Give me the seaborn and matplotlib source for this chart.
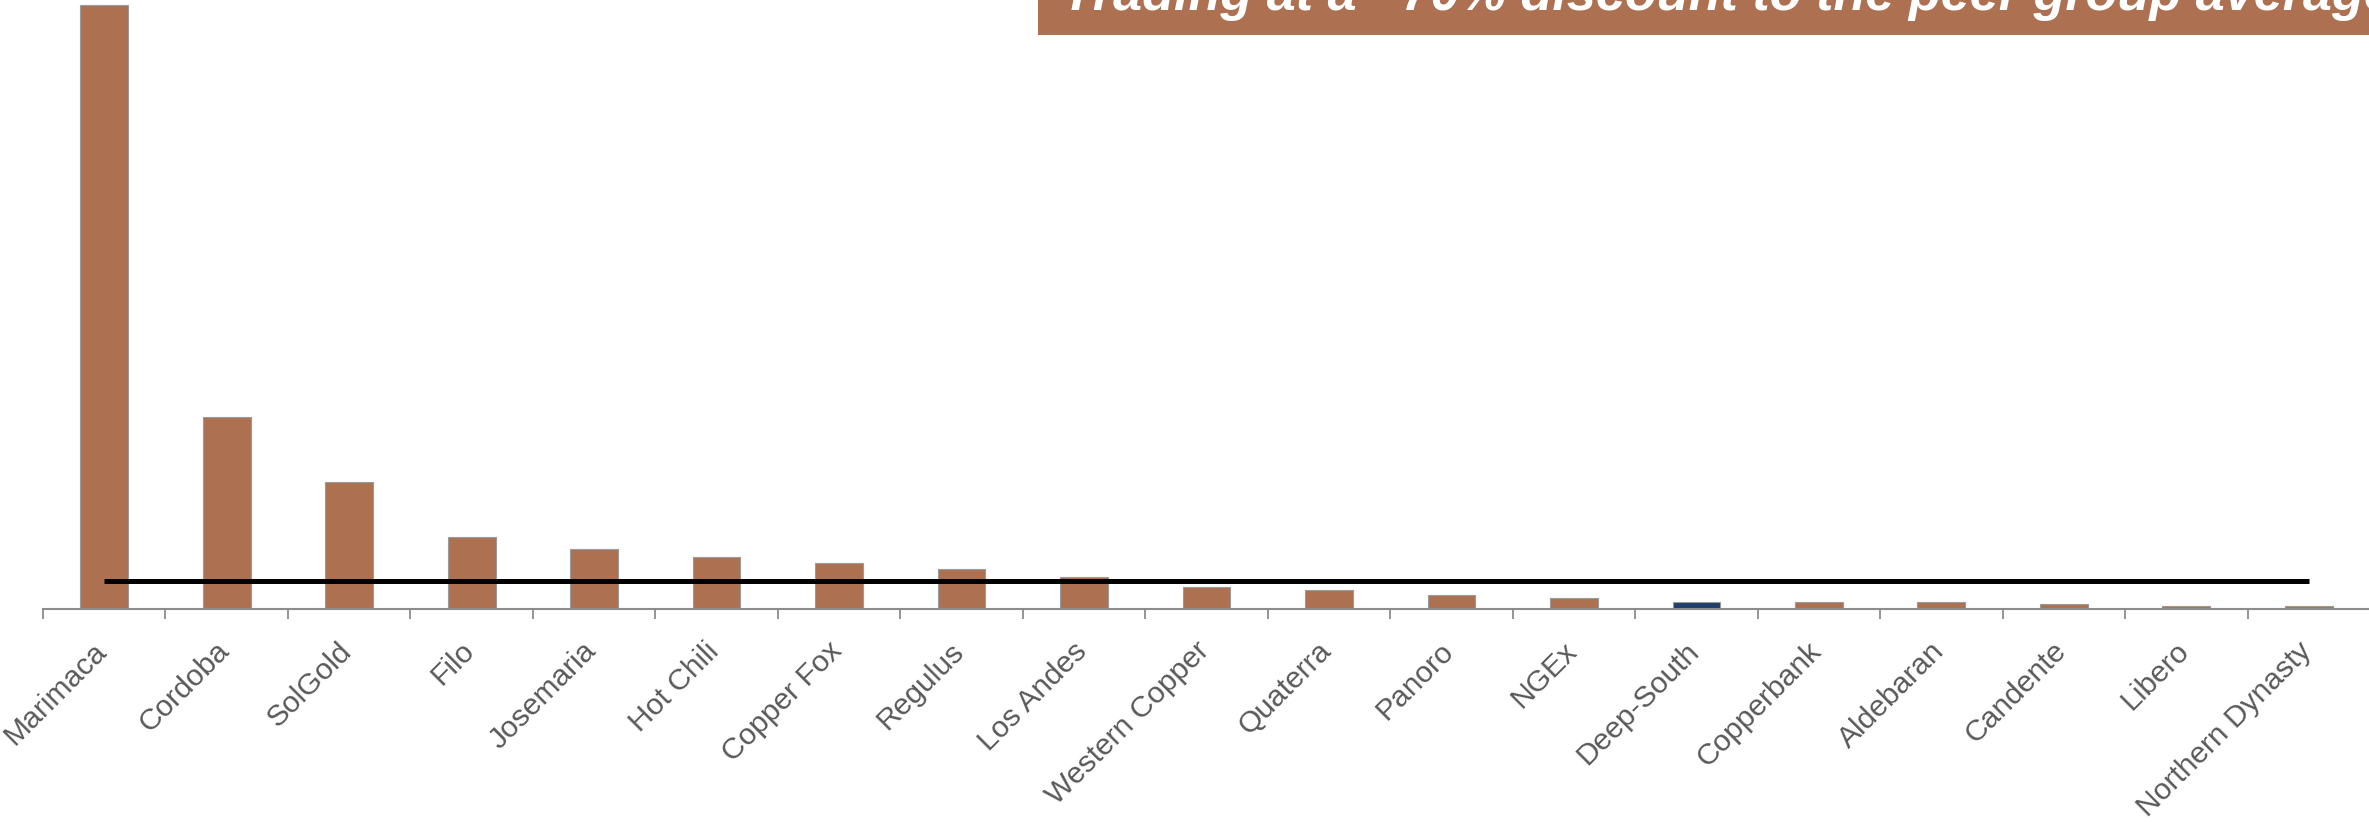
import matplotlib
matplotlib.use("Agg")
import matplotlib.pyplot as plt
import matplotlib.transforms as mtransforms
from matplotlib.patches import Rectangle
from matplotlib.ticker import FixedLocator
import seaborn as sns
import pandas as pd

# ---- data (arbitrary units) ----
companies = ["Marimaca", "Cordoba", "SolGold", "Filo", "Josemaria", "Hot Chili",
             "Copper Fox", "Regulus", "Los Andes", "Western Copper", "Quaterra",
             "Panoro", "NGEx", "Deep-South", "Copperbank", "Aldebaran",
             "Candente", "Libero", "Northern Dynasty"]
values = [60.4, 19.2, 12.7, 7.2, 6.0, 5.2, 4.6, 4.0, 3.2, 2.2, 1.9, 1.4, 1.1,
          0.67, 0.67, 0.67, 0.5, 0.35, 0.35]
highlight = "Deep-South"
peer_average = 2.83
title_text = "Trading at a ~70% discount to the peer group average"

BROWN = "#AD7152"
NAVY = "#213F6B"
colors = [NAVY if c == highlight else BROWN for c in companies]

df = pd.DataFrame({"company": companies, "value": values})

sns.set_theme(style="white")
plt.rcParams["font.family"] = ["Liberation Sans", "DejaVu Sans"]

W, H, DPI = 2369, 831, 100
fig = plt.figure(figsize=(W / DPI, H / DPI), dpi=DPI)
ax = fig.add_axes([43 / W, 222 / H, (2370 - 43) / W, 609 / H])

sns.barplot(data=df, x="company", y="value", hue="company", palette=colors,
            legend=False, width=0.39, edgecolor="#9a9a9a", linewidth=0.8,
            saturation=1, ax=ax)

# peer group average line from first to last bar centre
ax.plot([0, len(companies) - 1], [peer_average, peer_average], color="black",
        lw=3.6, solid_capstyle="butt", zorder=5)

ax.set_xlim(-0.5, len(companies) - 0.5)
ax.set_ylim(0, 60.9)
ax.set_xlabel("")
ax.set_ylabel("")
ax.set_yticks([])

for s in ["top", "right", "left"]:
    ax.spines[s].set_visible(False)
ax.spines["bottom"].set_color("#8c8c8c")
ax.spines["bottom"].set_linewidth(1.5)

# boundary tick marks
ax.xaxis.set_minor_locator(FixedLocator([i - 0.5 for i in range(len(companies) + 1)]))
ax.tick_params(axis="x", which="minor", bottom=True, length=7.2, width=1.3,
               color="#8c8c8c", direction="out")
ax.tick_params(axis="x", which="major", bottom=True, length=0, pad=20)

ax.set_xticks(range(len(companies)))
ax.set_xticklabels(companies, rotation=45, ha="right", va="top",
                   fontsize=21.6, color="#595959")
offset = mtransforms.ScaledTranslation(8 / DPI, 0, fig.dpi_scale_trans)
for lbl in ax.get_xticklabels():
    lbl.set_transform(lbl.get_transform() + offset)

# title banner
fig.add_artist(Rectangle((1038 / W, 1 - 34.7 / H), 1 - 1038 / W + 0.01, 34.7 / H + 0.01,
                         transform=fig.transFigure, facecolor=BROWN,
                         edgecolor="none", zorder=1))
fig.text(1062 / W, 1 - 10 / H, title_text, color="white", fontsize=37.5,
         fontweight="bold", fontstyle="italic", ha="left", va="baseline",
         zorder=2)

fig.savefig("out.png", dpi=DPI)
